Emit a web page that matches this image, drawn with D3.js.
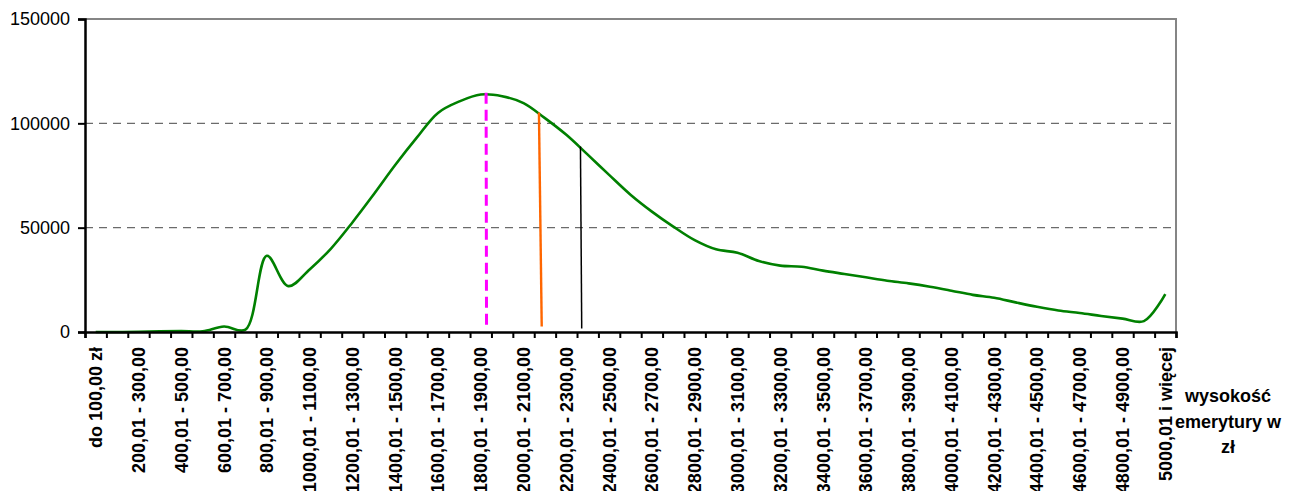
<!DOCTYPE html>
<html>
<head>
<meta charset="utf-8">
<script src="https://cdn.jsdelivr.net/npm/d3@7"></script>
<style>
  body { margin: 0; background: #fff; }
  text { font-family: Arial, "Liberation Sans", sans-serif; }
</style>
</head>
<body>
<svg id="chart" width="1300" height="491"></svg>
<script>
// przedziały wysokości emerytury
const categories = [
  'do 100,00 zł', '100,01 - 200,00', '200,01 - 300,00', '300,01 - 400,00', '400,01 - 500,00',
  '500,01 - 600,00', '600,01 - 700,00', '700,01 - 800,00', '800,01 - 900,00', '900,01 - 1000,00',
  '1000,01 - 1100,00', '1100,01 - 1200,00', '1200,01 - 1300,00', '1300,01 - 1400,00', '1400,01 - 1500,00',
  '1500,01 - 1600,00', '1600,01 - 1700,00', '1700,01 - 1800,00', '1800,01 - 1900,00', '1900,01 - 2000,00',
  '2000,01 - 2100,00', '2100,01 - 2200,00', '2200,01 - 2300,00', '2300,01 - 2400,00', '2400,01 - 2500,00',
  '2500,01 - 2600,00', '2600,01 - 2700,00', '2700,01 - 2800,00', '2800,01 - 2900,00', '2900,01 - 3000,00',
  '3000,01 - 3100,00', '3100,01 - 3200,00', '3200,01 - 3300,00', '3300,01 - 3400,00', '3400,01 - 3500,00',
  '3500,01 - 3600,00', '3600,01 - 3700,00', '3700,01 - 3800,00', '3800,01 - 3900,00', '3900,01 - 4000,00',
  '4000,01 - 4100,00', '4100,01 - 4200,00', '4200,01 - 4300,00', '4300,01 - 4400,00', '4400,01 - 4500,00',
  '4500,01 - 4600,00', '4600,01 - 4700,00', '4700,01 - 4800,00', '4800,01 - 4900,00', '4900,01 - 5000,00',
  '5000,01 i więcej',
]

// liczba emerytów w przedziale
const counts = [
  0, 0, 100, 300, 400, 300, 2600, 1100, 36500, 22000,
  30000, 40000, 52500, 66000, 80000, 93000, 105000, 110500, 113800, 113000,
  109700, 102500, 94500, 85000, 75300, 65800, 57700, 50500, 44000, 39600,
  38000, 34000, 31800, 31300, 29400, 27800, 26200, 24600, 23300, 21700,
  19800, 17800, 16400, 14200, 12100, 10300, 9100, 7700, 6400, 5200,
  18200,
]

const yTicks = [0, 50000, 100000, 150000]
const gridValues = [50000, 100000]

// pionowe znaczniki (pozycja w jednostkach kategorii: góra / dół)
const markers = [
  { name: 'magenta', x1: 18.25, v1: 114600, x2: 18.27, v2: 2400, color: '#ff00ff', width: 3, dash: '11,6' },
  { name: 'orange', x1: 20.72, v1: 105200, x2: 20.85, v2: 2600, color: '#ff6600', width: 2.4, dash: null },
  { name: 'black', x1: 22.66, v1: 88900, x2: 22.72, v2: 1700, color: '#000000', width: 1.5, dash: null },
]

const axisTitle = ['wysokość', 'emerytury w', 'zł']

const svg = d3.select('#chart')
const plotLeft = 85
const plotRight = 1176
const plotTop = 19
const plotBottom = 332

const x = d3.scaleLinear().domain([-0.5, categories.length - 0.5]).range([plotLeft, plotRight])
const xBand = d3.scaleBand().domain(categories).range([plotLeft, plotRight]).padding(0)
const y = d3.scaleLinear().domain([0, 150000]).range([plotBottom, plotTop])

// siatka
svg.append('g')
  .selectAll('line')
  .data(gridValues)
  .join('line')
  .attr('x1', plotLeft)
  .attr('x2', plotRight)
  .attr('y1', (d) => y(d))
  .attr('y2', (d) => y(d))
  .style('stroke', '#6b6b6b')
  .style('stroke-width', 1.3)
  .style('stroke-dasharray', '8,6')

// ramka (góra i prawa)
svg.append('path')
  .attr('d', `M${plotLeft},${plotTop}H${plotRight}V${plotBottom}`)
  .style('fill', 'none')
  .style('stroke', '#858585')
  .style('stroke-width', 2)

// krzywa
const line = d3.line()
  .x((d, i) => x(i))
  .y((d) => y(d))
  .curve(d3.curveCatmullRom.alpha(0.5))

svg.append('path')
  .datum(counts)
  .attr('d', line)
  .style('fill', 'none')
  .style('stroke', '#008000')
  .style('stroke-width', 2.6)

// znaczniki
svg.append('g')
  .selectAll('line')
  .data(markers)
  .join('line')
  .attr('x1', (d) => x(d.x1))
  .attr('y1', (d) => y(d.v1))
  .attr('x2', (d) => x(d.x2))
  .attr('y2', (d) => y(d.v2))
  .style('stroke', (d) => d.color)
  .style('stroke-width', (d) => d.width)
  .style('stroke-dasharray', (d) => d.dash)

// oś Y
const yAxis = svg.append('g')
  .attr('transform', `translate(${plotLeft},0)`)
  .call(d3.axisLeft(y).tickValues(yTicks).tickSize(7).tickPadding(8).tickFormat((d) => d))
yAxis.select('.domain').style('stroke', '#000').style('stroke-width', 2.5)
yAxis.selectAll('.tick line').style('stroke', '#000').style('stroke-width', 2)
yAxis.selectAll('text').style('font-size', '18px').style('fill', '#000').attr('font-family', null)

// oś X - kreski na granicach przedziałów
const boundaries = d3.range(categories.length + 1).map((i) => i - 0.5)
const xTicks = svg.append('g')
  .attr('transform', `translate(0,${plotBottom})`)
  .call(d3.axisBottom(x).tickValues(boundaries).tickSize(6).tickFormat(''))
xTicks.select('.domain').style('stroke', '#000').style('stroke-width', 2.5)
xTicks.selectAll('.tick line').style('stroke', '#000').style('stroke-width', 2)

// oś X - etykiety co drugi przedział
const xLabels = svg.append('g')
  .attr('transform', `translate(0,${plotBottom})`)
  .call(d3.axisBottom(xBand)
    .tickValues(categories.filter((c, i) => i % 2 === 0))
    .tickSize(0))
xLabels.select('.domain').remove()
xLabels.selectAll('text')
  .attr('font-family', null)
  .style('font-size', '18px')
  .style('font-weight', 'bold')
  .style('fill', '#000')
  .style('text-anchor', 'end')
  .attr('transform', 'rotate(-90)')
  .attr('x', -15)
  .attr('y', 0)
  .attr('dy', '0.36em')

// tytuł osi
svg.append('text')
  .attr('x', 1228)
  .attr('y', 402)
  .style('font-size', '18px')
  .style('font-weight', 'bold')
  .style('text-anchor', 'middle')
  .selectAll('tspan')
  .data(axisTitle)
  .join('tspan')
  .attr('x', 1228)
  .attr('dy', (d, i) => (i === 0 ? 0 : 25.5))
  .text((d) => d)
</script>
</body>
</html>
